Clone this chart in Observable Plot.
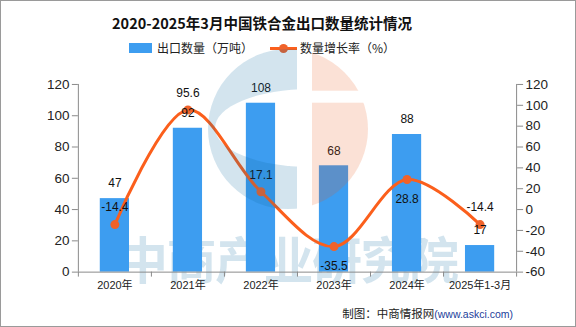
<!DOCTYPE html>
<html>
<head>
<meta charset="utf-8">
<script src="https://cdn.jsdelivr.net/npm/d3@7"></script>
<script src="https://cdn.jsdelivr.net/npm/@observablehq/plot@0.6"></script>
<style>
  html, body { margin: 0; padding: 0; background: #fff; }
  #wrap { position: relative; width: 576px; height: 327px; box-sizing: border-box; border: 1px solid #9a9a9a; background: #fff; overflow: hidden; font-family: "Noto Sans CJK SC", sans-serif; }
  .abs { position: absolute; }
  #title { left: 0; top: 12px; width: 522px; text-align: center; font-size: 14.5px; font-weight: bold; line-height: 20px; color: #111; }
  .leg { font-size: 12px; line-height: 14px; color: #222; white-space: nowrap; }
  #plot { left: -1px; top: 59px; }
  #footer { right: 62px; top: 304px; font-size: 11.5px; line-height: 16px; color: #222; white-space: nowrap; }
  #footer span { color: #23409a; font-family: "Liberation Sans", sans-serif; font-size: 10.5px; }
  svg.overlay { position: absolute; left: -1px; top: -1px; pointer-events: none; }
</style>
</head>
<body>
<div id="wrap">
  <svg class="overlay" id="wmtext" width="576" height="327">
    <text x="118" y="279" font-family="Noto Sans CJK SC" font-weight="bold" font-size="50" letter-spacing="-1.5" fill="rgba(11,105,161,0.18)">中商产业研究院</text>
  </svg>
  <div id="title" class="abs">2020-2025年3月中国铁合金出口数量统计情况</div>
  <div class="abs" style="left:128px;top:42px;width:23px;height:10px;background:#3d9df0"></div>
  <div class="abs leg" style="left:156px;top:40px">出口数量（万吨）</div>
  <div class="abs" style="left:269px;top:46px;width:27px;height:3px;background:#fb5f1c"></div>
  <div class="abs" style="left:278px;top:43px;width:9px;height:9px;border-radius:50%;background:#f0622a"></div>
  <div class="abs leg" style="left:299px;top:40px">数量增长率（%）</div>
  <div id="plot" class="abs"></div>
  <div id="footer" class="abs">制图：中商情报网<span>(www.askci.com)</span></div>
  <svg class="overlay" width="576" height="327">
    <defs>
      <mask id="mBlue">
        <rect x="0" y="0" width="297" height="327" fill="#fff"/>
        <ellipse cx="310" cy="128" rx="95" ry="39" fill="#000"/>
      </mask>
      <mask id="mPeach">
        <rect x="312" y="0" width="100" height="327" fill="#fff"/>
        <rect x="300" y="90.7" width="120" height="12" fill="#000"/>
      </mask>
    </defs>
    <circle cx="288" cy="129" r="80" fill="rgba(11,105,161,0.18)" mask="url(#mBlue)"/>
    <circle cx="288" cy="129" r="80" fill="rgba(233,89,28,0.18)" mask="url(#mPeach)"/>
  </svg>
</div>
<script>
const categories = ["2020年", "2021年", "2022年", "2023年", "2024年", "2025年1-3月"];
const exportQty = [47, 92, 108, 68, 88, 17];          // 出口数量（万吨）
const growthRate = [-14.4, 95.6, 17.1, -35.5, 28.8, -14.4]; // 数量增长率（%）
const leftTicks = [0, 20, 40, 60, 80, 100, 120];
const rightTicks = [-60, -40, -20, 0, 20, 40, 60, 80, 100, 120];
const labelBelow = ["2023年", "2024年"];

// map the right-axis domain [-60,120] onto the left-axis domain [0,120]
const toLeft = v => (v + 60) * 120 / 180;
const fromLeft = v => Math.round(v * 180 / 120 - 60);

const idx = categories.map((_, i) => i);
const boundaries = categories.map((_, i) => i - 0.5).concat([categories.length - 0.5]);
const above = idx.filter(i => !labelBelow.includes(categories[i]));
const below = idx.filter(i => labelBelow.includes(categories[i]));

const axisColor = "#8a8a8a";
const chart = Plot.plot({
  width: 576,
  height: 240,
  marginTop: 24,
  marginBottom: 28,
  marginLeft: 78,
  marginRight: 59,
  style: { fontFamily: "Liberation Sans, Noto Sans CJK SC, sans-serif", color: "#222", background: "transparent" },
  x: { type: "linear", domain: [-0.5, categories.length - 0.5] },
  y: { domain: [0, 120] },
  marks: [
    Plot.rectY(idx, { x1: i => i - 0.2, x2: i => i + 0.2, y1: 0, y2: i => exportQty[i], fill: "#3d9df0" }),
    Plot.ruleY([0], { stroke: axisColor }),
    Plot.ruleX([boundaries[0], boundaries[boundaries.length - 1]], { y1: 0, y2: 120, stroke: axisColor }),
    Plot.axisY({ anchor: "left", ticks: leftTicks, tickSize: 6, tickPadding: 3, fontSize: 13.5, stroke: axisColor, label: null }),
    Plot.axisY({ anchor: "right", ticks: rightTicks.map(toLeft), tickFormat: v => String(fromLeft(v)), tickSize: 6, tickPadding: 3, fontSize: 13.5, stroke: axisColor, label: null }),
    Plot.axisX({ anchor: "bottom", ticks: boundaries, tickFormat: () => "", tickSize: 5, stroke: axisColor, label: null }),
    Plot.axisX({ anchor: "bottom", ticks: idx, tickFormat: i => categories[i], tickSize: 0, tickPadding: 9, fontSize: 11, label: null }),
    Plot.line(idx, { x: i => i, y: i => toLeft(growthRate[i]), curve: "catmull-rom", stroke: "#fb5f1c", strokeWidth: 3 }),
    Plot.dot(idx, { x: i => i, y: i => toLeft(growthRate[i]), r: 4.5, fill: "#f0622a" }),
    Plot.text(idx, { x: i => i, y: i => exportQty[i], text: i => String(exportQty[i]), dy: -15, fontSize: 12, fill: "#111" }),
    Plot.text(above, { x: i => i, y: i => toLeft(growthRate[i]), text: i => String(growthRate[i]), dy: -17, fontSize: 12, fill: "#111" }),
    Plot.text(below, { x: i => i, y: i => toLeft(growthRate[i]), text: i => String(growthRate[i]), dy: 20, fontSize: 12, fill: "#111" })
  ]
});
document.getElementById("plot").appendChild(chart);
</script>
</body>
</html>
